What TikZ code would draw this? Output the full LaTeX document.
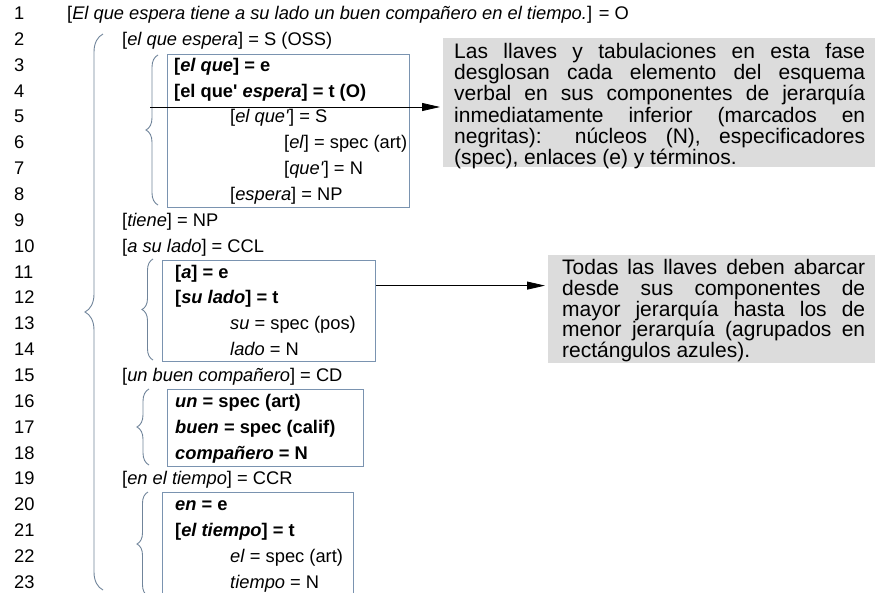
\documentclass[tikz,border=0pt]{standalone}
\usepackage{fontspec}
\setmainfont{Liberation Sans}
\usetikzlibrary{arrows.meta,decorations.pathreplacing}
\definecolor{boxblue}{RGB}{122,147,176}
\definecolor{bracegrey}{RGB}{112,132,154}
\definecolor{notegrey}{RGB}{220,220,220}
\begin{document}
\begin{tikzpicture}[x=1pt,y=-1pt,
  txt/.style={anchor=base west, inner sep=0pt, font=\fontsize{18.3}{22}\selectfont},
  group/.style={draw=boxblue, line width=0.9pt, inner sep=0pt, anchor=north west},
  llave/.style={draw=bracegrey, line width=0.9pt, decorate, decoration={brace, amplitude=#1}},
  note/.style={fill=notegrey, draw=none, inner sep=0pt, anchor=north west},
  notetext/.style={anchor=base west, inner sep=0pt, font=\fontsize{21}{21.2}\selectfont},
  arr/.style={draw=black, line width=0.8pt, shorten >=3pt, -{Triangle[length=18pt,width=8pt]}}
]
\useasboundingbox (0,0) rectangle (875,592);
\clip (0,0) rectangle (875,592);

% line numbers
\foreach \n in {1,...,23}
  \node[txt] (ln\n) at (14, {19.5+(\n-1)*25.86}) {\n};

% grouping rectangles
\node[group, minimum width=242pt, minimum height=153pt] (box1) at (167,54) {};
\node[group, minimum width=213pt, minimum height=101pt] (box2) at (162,259.6) {};
\node[group, minimum width=196pt, minimum height=76.6pt] (box3) at (166.5,389) {};
\node[group, minimum width=191pt, minimum height=112pt] (box4) at (162,492) {};

% braces
\draw[llave=18] (103,590) -- (103,34);
\draw[llave=12] (158,205) -- (158,55);
\draw[llave=11] (153,360) -- (153,259);
\draw[llave=12] (149,465) -- (149,389);
\draw[llave=11] (148,596) -- (148,492);

% analysed sentence
\node[txt] (r1) at (67,19.5) {[\textit{El que espera tiene a su lado un buen compañero en el tiempo.}] = O};
\node[txt] (r2) at (122,45.36) {[\textit{el que espera}] = S (OSS)};
\node[txt] (r3) at (174,71.22) {\textbf{[\textit{el que}] = e}};
\node[txt] (r4) at (174,97.08) {\textbf{[el que\textquotesingle{} \textit{espera}] = t (O)}};
\node[txt] (r5) at (230,122.94) {[\textit{el que\textquotesingle}] = S};
\node[txt] (r6) at (284,148.8) {[\textit{el}] = spec (art)};
\node[txt] (r7) at (284,174.66) {[\textit{que\textquotesingle}] = N};
\node[txt] (r8) at (230,200.52) {[\textit{espera}] = NP};
\node[txt] (r9) at (122,226.38) {[\textit{tiene}] = NP};
\node[txt] (r10) at (122,252.24) {[\textit{a su lado}] = CCL};
\node[txt] (r11) at (175,278.1) {\textbf{[\textit{a}] = e}};
\node[txt] (r12) at (175,303.96) {\textbf{[\textit{su lado}] = t}};
\node[txt] (r13) at (230,329.82) {\textit{su} = spec (pos)};
\node[txt] (r14) at (230,355.68) {\textit{lado} = N};
\node[txt] (r15) at (122,381.54) {[\textit{un buen compañero}] = CD};
\node[txt] (r16) at (175,407.4) {\textbf{\textit{un} = spec (art)}};
\node[txt] (r17) at (175,433.26) {\textbf{\textit{buen} = spec (calif)}};
\node[txt] (r18) at (175,459.12) {\textbf{\textit{compañero} = N}};
\node[txt] (r19) at (122,484.98) {[\textit{en el tiempo}] = CCR};
\node[txt] (r20) at (175,510.84) {\textbf{\textit{en} = e}};
\node[txt] (r21) at (175,536.7) {\textbf{[\textit{el tiempo}] = t}};
\node[txt] (r22) at (230,562.56) {\textit{el} = spec (art)};
\node[txt] (r23) at (230,588.42) {\textit{tiempo} = N};

% explanatory notes
\node[note, minimum width=440pt, minimum height=129pt] (note1) at (443,38) {};
\node[notetext] (n1a) at (454,58.5) {\makebox[411pt][s]{Las llaves y tabulaciones en esta fase}};
\node[notetext] (n1b) at (454,79.7) {\makebox[411pt][s]{desglosan cada elemento del esquema}};
\node[notetext] (n1c) at (454,100.9) {\makebox[411pt][s]{verbal en sus componentes de jerarquía}};
\node[notetext] (n1d) at (454,122.1) {\makebox[411pt][s]{inmediatamente inferior (marcados en}};
\node[notetext] (n1e) at (454,143.3) {\makebox[411pt][s]{negritas): núcleos (N), especificadores}};
\node[notetext] (n1f) at (454,164.5) {(spec), enlaces (e) y términos.};

\node[note, minimum width=335pt, minimum height=108pt] (note2) at (548,255) {};
\node[notetext] (n2a) at (562,274.5) {\makebox[303pt][s]{Todas las llaves deben abarcar}};
\node[notetext] (n2b) at (562,295.3) {\makebox[303pt][s]{desde sus componentes de}};
\node[notetext] (n2c) at (562,316.1) {\makebox[303pt][s]{mayor jerarquía hasta los de}};
\node[notetext] (n2d) at (562,336.9) {\makebox[303pt][s]{menor jerarquía (agrupados en}};
\node[notetext] (n2e) at (562,357.7) {rectángulos azules).};

% arrows to the notes
\coordinate (a1) at (150,107);
\draw[arr] (a1) -- (a1 -| note1.west);
\coordinate (a2) at ([yshift=-26pt]box2.north east);
\draw[arr] (a2) -- (a2 -| note2.west);
\end{tikzpicture}
\end{document}
